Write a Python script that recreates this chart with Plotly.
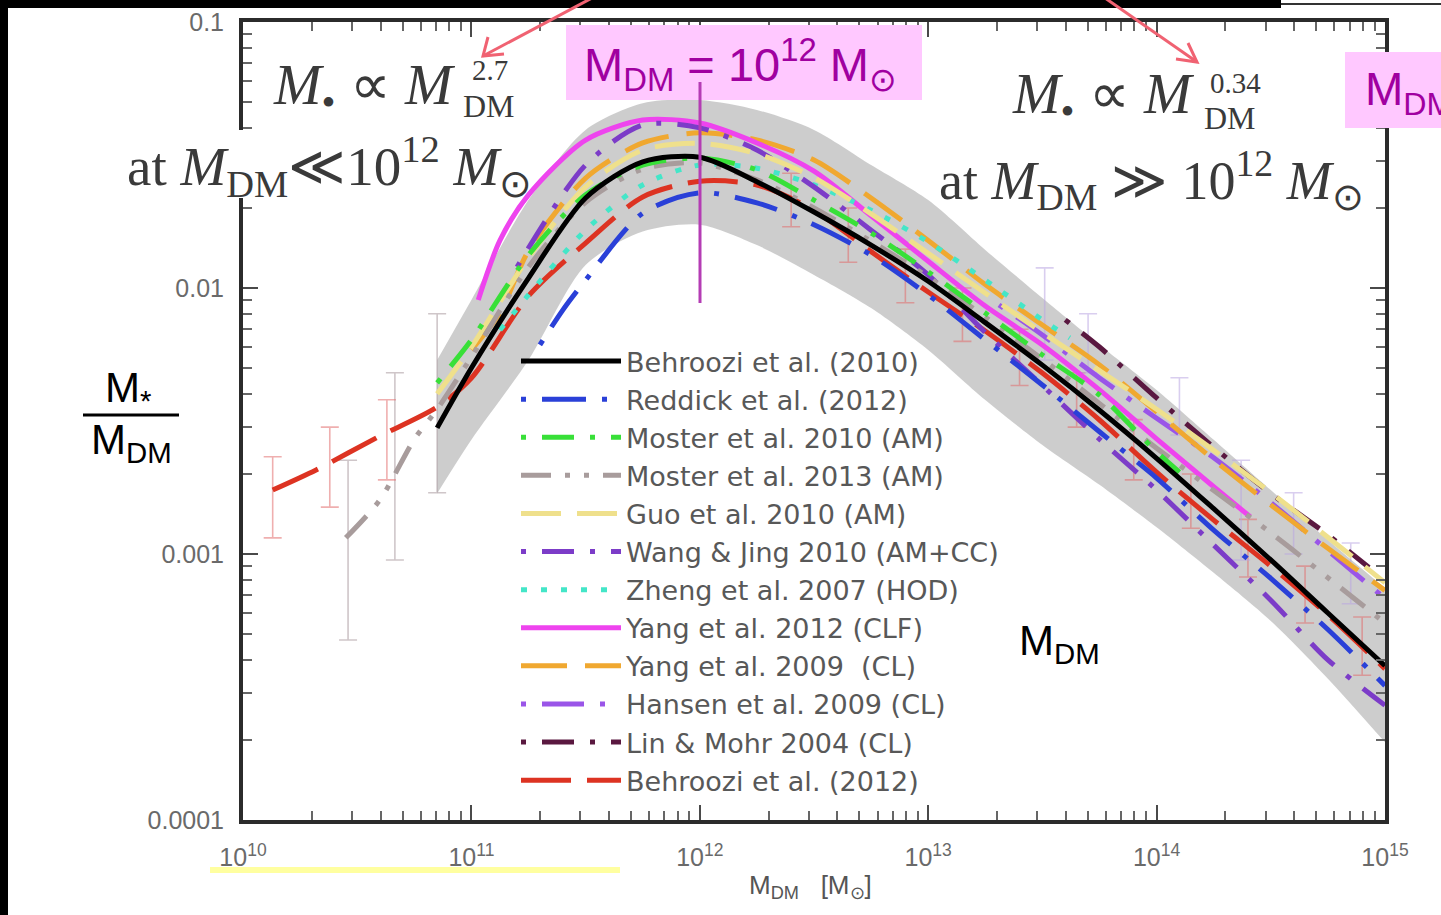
import plotly.graph_objects as go

# ---------------- data (log10 halo mass, stellar-to-halo mass ratio) ----------------
names = ["Behroozi et al. (2010)", "Reddick et al. (2012)", "Moster et al. 2010 (AM)",
         "Moster et al. 2013 (AM)", "Guo et al. 2010 (AM)", "Wang &amp; Jing 2010 (AM+CC)",
         "Zheng et al. 2007 (HOD)", "Yang et al. 2012 (CLF)", "Yang et al. 2009  (CL)",
         "Hansen et al. 2009 (CL)", "Lin &amp; Mohr 2004 (CL)", "Behroozi et al. (2012)"]

band_lgm = [10.85, 11.0, 11.25, 11.5, 11.75, 12.0, 12.25, 12.5, 12.75, 13.0, 13.25, 13.5,
            13.75, 14.0, 14.25, 14.5, 14.75, 15.0]
band_hi = [0.00536, 0.00902, 0.0214, 0.0393, 0.0495, 0.0509, 0.0467, 0.0393, 0.0290, 0.0214,
           0.0139, 0.00917, 0.00611, 0.00414, 0.00269, 0.00174, 0.00113, 0.000745]
band_lo = [0.00169, 0.00269, 0.00536, 0.0122, 0.0163, 0.0173, 0.0145, 0.0112, 0.00841, 0.00585,
           0.00379, 0.00257, 0.00182, 0.00126, 0.00085, 0.00056, 0.00034, 0.000196]

behroozi10_lgm = band_lgm
behroozi10_r = [0.00298, 0.00500, 0.0109, 0.0218, 0.0298, 0.0310, 0.0251, 0.0193, 0.0145, 0.0106,
                0.00741, 0.00513, 0.00347, 0.00229, 0.00148, 0.00095, 0.00060, 0.00038]

reddick_lgm = [11.3, 11.4, 11.5, 11.75, 12.0, 12.25, 12.5, 12.75, 13.0, 13.25, 13.5, 13.75,
               14.0, 14.25, 14.5, 14.75, 15.0]
reddick_r = [0.00611, 0.00826, 0.0107, 0.0191, 0.0228, 0.0209, 0.0173, 0.0133, 0.00942, 0.00638,
             0.00432, 0.00288, 0.00193, 0.00123, 0.00081, 0.00052, 0.00032]

moster10_lgm = [10.85, 11.0, 11.25, 11.5, 11.75, 12.0, 12.25, 12.5, 12.75, 13.0, 13.25, 13.5,
                13.75, 14.0, 14.1]
moster10_r = [0.00440, 0.00638, 0.0133, 0.0224, 0.0290, 0.0308, 0.0278, 0.0214, 0.0161, 0.0115,
              0.00805, 0.00560, 0.00396, 0.00242, 0.00203]

moster13_lgm = [10.45, 10.6, 10.75, 10.85, 11.0, 11.25, 11.5, 11.75, 12.0, 12.25, 12.5, 13.0,
                13.5, 14.0, 14.5, 15.0]
moster13_r = [0.00115, 0.0016, 0.0027, 0.0035, 0.0055, 0.0120, 0.0210, 0.0280, 0.0295, 0.0255,
              0.0200, 0.0110, 0.0054, 0.0025, 0.0012, 0.00055]

guo_lgm = [10.85, 11.0, 11.25, 11.5, 11.75, 12.0, 12.25, 12.5, 12.75, 13.0, 13.5, 14.0, 14.5, 15.0]
guo_r = [0.0040, 0.0060, 0.0130, 0.0240, 0.0330, 0.0350, 0.0320, 0.0260, 0.0190, 0.0135,
         0.0068, 0.0035, 0.0017, 0.00078]

wang_lgm = [11.2, 11.5, 11.75, 12.0, 12.25, 12.5, 12.75, 13.0, 13.25, 13.5, 13.75, 14.0,
            14.25, 14.5, 14.75, 15.0]
wang_r = [0.0120, 0.0290, 0.0410, 0.0400, 0.0330, 0.0240, 0.0165, 0.0112, 0.0068, 0.0043,
          0.0027, 0.00174, 0.00108, 0.00067, 0.00040, 0.00027]

zheng_lgm = [11.125, 11.25, 11.5, 11.75, 12.0, 12.25, 12.5, 12.75, 13.0, 13.25, 13.5, 13.62]
zheng_r = [0.00695, 0.00942, 0.0165, 0.0244, 0.0290, 0.0282, 0.0244, 0.0196, 0.0149, 0.0107,
           0.00759, 0.00649]

yang12_lgm = [11.03, 11.125, 11.25, 11.5, 11.75, 12.0, 12.25, 12.5, 12.75, 13.0, 13.25, 13.5,
              13.75, 14.0, 14.25, 14.41]
yang12_r = [0.00902, 0.0151, 0.0224, 0.0360, 0.0428, 0.0417, 0.0351, 0.0275, 0.0187, 0.0126,
            0.00855, 0.00611, 0.00414, 0.00271, 0.00179, 0.00138]

yang09_lgm = [11.0, 11.125, 11.25, 11.5, 11.75, 12.0, 12.25, 12.5, 12.75, 13.0, 13.25, 13.5,
              13.75, 14.0, 14.25, 14.5, 14.75, 15.0]
yang09_r = [0.00585, 0.00805, 0.0138, 0.0259, 0.0351, 0.0383, 0.0360, 0.0303, 0.0218, 0.0151,
            0.0103, 0.00726, 0.00514, 0.00342, 0.00226, 0.00153, 0.00105, 0.00073]

hansen_lgm = [13.31, 13.5, 13.75, 14.0, 14.25, 14.5, 14.75, 15.0]
hansen_r = [0.00863, 0.00666, 0.00459, 0.00324, 0.00230, 0.00156, 0.00103, 0.00068]

linmohr_lgm = [13.6, 13.75, 14.0, 14.25, 14.5, 14.75, 14.93]
linmohr_r = [0.00759, 0.00600, 0.00386, 0.00252, 0.00169, 0.00118, 0.00089]

behroozi12_lgm = [10.13, 10.32, 10.59, 10.85, 11.0, 11.25, 11.5, 11.75, 12.0, 12.25, 12.5, 12.75,
                  13.0, 13.25, 13.5, 13.75, 14.0, 14.25, 14.5, 14.75, 15.0]
behroozi12_r = [0.00174, 0.00207, 0.00275, 0.00357, 0.00459, 0.00933, 0.01476, 0.0220, 0.0252,
                0.0244, 0.0196, 0.0137, 0.00966, 0.00689, 0.00479, 0.00319, 0.00203, 0.00134,
                0.00090, 0.00059, 0.00037]

# error bars (data points)
b12pts_lgm = [10.13, 10.38, 10.63, 12.4, 12.65, 12.9, 13.15, 13.4, 13.65, 13.9, 14.15, 14.4, 14.65, 14.9]
b12pts_c = [0.00174, 0.00212, 0.0028, 0.0215, 0.0160, 0.0110, 0.0080, 0.0055, 0.0038, 0.0025,
            0.0016, 0.00105, 0.00070, 0.00045]
b12pts_hi = [0.00232, 0.0030, 0.0038, 0.0270, 0.0200, 0.0140, 0.0100, 0.0070, 0.0048, 0.0032,
             0.0020, 0.00135, 0.00090, 0.00058]
b12pts_lo = [0.00115, 0.0015, 0.0019, 0.0170, 0.0125, 0.0088, 0.0063, 0.0043, 0.0030, 0.0019,
             0.00125, 0.00082, 0.00055, 0.00035]

m13pts_lgm = [10.46, 10.665, 10.85]
m13pts_c = [0.00118, 0.0021, 0.0035]
m13pts_hi = [0.00225, 0.0048, 0.0080]
m13pts_lo = [0.000475, 0.00095, 0.0017]

clpts_lgm = [13.51, 13.7, 14.1, 14.37, 14.6, 14.85]
clpts_c = [0.0079, 0.0062, 0.0036, 0.0018, 0.0013, 0.00085]
clpts_hi = [0.0119, 0.0080, 0.0046, 0.00225, 0.0017, 0.0011]
clpts_lo = [0.00536, 0.0048, 0.0028, 0.00095, 0.0010, 0.00065]

x_tickvals = [1e10, 1e11, 1e12, 1e13, 1e14, 1e15]
x_ticktext = ["10<sup>10</sup>", "10<sup>11</sup>", "10<sup>12</sup>", "10<sup>13</sup>",
              "10<sup>14</sup>", "10<sup>15</sup>"]
y_tickvals = [1e-4, 1e-3, 1e-2, 1e-1]
y_ticktext = ["0.0001", "0.001", "0.01", "0.1"]
x_minor = [m * 10.0 ** e for e in range(10, 15) for m in range(2, 10)]
y_minor = [m * 10.0 ** e for e in range(-4, -1) for m in range(2, 10)]

# ---------------- styles ----------------
series = [
    (behroozi10_lgm, behroozi10_r, "#000000", "solid"),
    (reddick_lgm, reddick_r, "#2a40d8", "5px,16px,44px,16px"),
    (moster10_lgm, moster10_r, "#38e038", "5px,16px,32px,16px"),
    (moster13_lgm, moster13_r, "#a89c9c", "30px,14px,5px,14px,5px,14px"),
    (guo_lgm, guo_r, "#efe08c", "40px,16px"),
    (wang_lgm, wang_r, "#7c3cc8", "5px,16px,32px,16px"),
    (zheng_lgm, zheng_r, "#44e6c8", "6px,14px"),
    (yang12_lgm, yang12_r, "#ee44ee", "solid"),
    (yang09_lgm, yang09_r, "#f0a830", "46px,18px"),
    (hansen_lgm, hansen_r, "#9a55e8", "5px,16px,42px,16px"),
    (linmohr_lgm, linmohr_r, "#5a1840", "5px,16px,32px,16px"),
    (behroozi12_lgm, behroozi12_r, "#dd3322", "50px,16px"),
]

W, H = 1441, 915
def fx(p):
    return p / W
def fy(p):
    return 1 - p / H

fig = go.Figure()

# uncertainty band
fig.add_trace(go.Scatter(x=[10 ** v for v in band_lgm], y=band_lo, mode="lines",
                         line=dict(width=0, color="rgba(0,0,0,0)", shape="spline", smoothing=0.8),
                         showlegend=False, hoverinfo="skip"))
fig.add_trace(go.Scatter(x=[10 ** v for v in band_lgm], y=band_hi, mode="lines",
                         line=dict(width=0, color="rgba(0,0,0,0)", shape="spline", smoothing=0.8),
                         fill="tonexty", fillcolor="rgba(196,196,196,0.85)", showlegend=False,
                         hoverinfo="skip"))

def errtrace(lgm, c, hi, lo, color):
    return go.Scatter(x=[10 ** v for v in lgm], y=c, mode="markers",
                      marker=dict(size=1, color="rgba(0,0,0,0)"), showlegend=False,
                      hoverinfo="skip",
                      error_y=dict(type="data", symmetric=False,
                                   array=[h - m for h, m in zip(hi, c)],
                                   arrayminus=[m - l for m, l in zip(c, lo)],
                                   color=color, thickness=1.6, width=9))

fig.add_trace(errtrace(m13pts_lgm, m13pts_c, m13pts_hi, m13pts_lo, "rgba(175,160,165,0.6)"))
fig.add_trace(errtrace(b12pts_lgm, b12pts_c, b12pts_hi, b12pts_lo, "rgba(225,110,110,0.55)"))
fig.add_trace(errtrace(clpts_lgm, clpts_c, clpts_hi, clpts_lo, "rgba(185,165,225,0.55)"))

for (lgm, r, col, dash), nm in reversed(list(zip(series, names))):
    fig.add_trace(go.Scatter(x=[10 ** v for v in lgm], y=r, mode="lines", name=nm,
                             line=dict(color=col, width=5, dash=dash, shape="spline",
                                       smoothing=0.8)))

axis_common = dict(type="log", showline=True, linewidth=4, linecolor="#2b2b2b", mirror="ticks",
                   ticks="inside", ticklen=15, tickwidth=2, tickcolor="#4a4a4a", showgrid=False,
                   zeroline=False,
                   tickfont=dict(family="Liberation Sans", size=25, color="#6a6a6a"))

fig.update_layout(
    width=W, height=H, margin=dict(l=0, r=0, t=0, b=0, pad=0, autoexpand=False),
    paper_bgcolor="white", plot_bgcolor="white",
    xaxis=dict(axis_common, range=[10, 15], domain=[fx(243), fx(1385)],
               tickvals=x_tickvals, ticktext=x_ticktext, ticklabelstandoff=12, automargin=False,
               minor=dict(tickmode="array", tickvals=x_minor, ticks="inside", ticklen=9,
                          tickwidth=1.8, tickcolor="#666666", showgrid=False)),
    yaxis=dict(axis_common, range=[-4, -1], domain=[fy(820), fy(22)],
               tickvals=y_tickvals, ticktext=y_ticktext, ticklabelstandoff=10, automargin=False,
               minor=dict(tickmode="array", tickvals=y_minor, ticks="inside", ticklen=9,
                          tickwidth=1.8, tickcolor="#666666", showgrid=False)),
    legend=dict(x=fx(516), y=fy(337), xanchor="left", yanchor="top",
                bgcolor="rgba(0,0,0,0)", traceorder="reversed", itemwidth=100,
                font=dict(family="DejaVu Sans", size=27, color="#585858"),
                tracegroupgap=0),
    showlegend=True,
)

# ---------------- slide decorations ----------------
shapes = [
    dict(type="rect", xref="paper", yref="paper", x0=fx(0), x1=fx(1281), y0=fy(8), y1=fy(0),
         fillcolor="black", line=dict(width=0), layer="above"),
    dict(type="rect", xref="paper", yref="paper", x0=fx(0), x1=fx(8), y0=fy(915), y1=fy(0),
         fillcolor="black", line=dict(width=0), layer="above"),
    dict(type="line", xref="paper", yref="paper", x0=fx(1281), x1=fx(1441), y0=fy(4), y1=fy(4),
         line=dict(color="#333333", width=2), layer="above"),
    # white backing of the "at M_DM << ..." label where it crosses the axis
    dict(type="rect", xref="paper", yref="paper", x0=fx(232), x1=fx(262), y0=fy(198), y1=fy(130),
         fillcolor="white", line=dict(width=0), layer="above"),
    dict(type="rect", xref="paper", yref="paper", x0=fx(566), x1=fx(922), y0=fy(100), y1=fy(25),
         fillcolor="#ffc8ff", line=dict(width=0), layer="above"),
    dict(type="rect", xref="paper", yref="paper", x0=fx(1345), x1=fx(1441), y0=fy(128), y1=fy(52),
         fillcolor="#ffc8ff", line=dict(width=0), layer="above"),
    dict(type="line", xref="paper", yref="paper", x0=fx(700), x1=fx(700), y0=fy(82), y1=fy(303),
         line=dict(color="#b43cb4", width=3), layer="above"),
    dict(type="line", xref="paper", yref="paper", x0=fx(83), x1=fx(179), y0=fy(415), y1=fy(415),
         line=dict(color="black", width=3), layer="above"),
    dict(type="rect", xref="paper", yref="paper", x0=fx(210), x1=fx(620), y0=fy(873), y1=fy(867),
         fillcolor="#ffffa0", line=dict(width=0), layer="above"),
    # arrows
    dict(type="path", xref="paper", yref="paper",
         path=f"M {fx(592)} {fy(-2)} L {fx(483)} {fy(56)}",
         line=dict(color="#f06272", width=3), layer="above"),
    dict(type="path", xref="paper", yref="paper",
         path=f"M {fx(488)} {fy(37)} L {fx(483)} {fy(56)} L {fx(504)} {fy(54)}",
         line=dict(color="#f06272", width=3), layer="above"),
    dict(type="path", xref="paper", yref="paper",
         path=f"M {fx(1105)} {fy(-2)} L {fx(1197)} {fy(62)}",
         line=dict(color="#f06272", width=3), layer="above"),
    dict(type="path", xref="paper", yref="paper",
         path=f"M {fx(1188)} {fy(43)} L {fx(1197)} {fy(62)} L {fx(1176)} {fy(59)}",
         line=dict(color="#f06272", width=3), layer="above"),
]
fig.update_layout(shapes=shapes)

serif = "Liberation Serif"
txtc = "#3a3a3a"
def ann(text, x, y, size, color, family, xanchor="left"):
    fig.add_annotation(text=text, xref="paper", yref="paper", x=fx(x), y=fy(y),
                       xanchor=xanchor, yanchor="middle", showarrow=False, borderpad=0,
                       font=dict(size=size, color=color, family=family))

ann("<i>M</i><sub>\u2022</sub> \u221d <i>M</i>", 272, 89, 57, txtc, serif)
ann("2.7", 490, 70, 29, txtc, serif, "center")
ann("DM", 489, 106, 32, txtc, serif, "center")
ann("at <i>M</i><sub>DM</sub>\u226a10<sup>12</sup> <i>M</i><sub>\u2299</sub>", 126, 166, 55, txtc,
    serif)

ann("<i>M</i><sub>\u2022</sub> \u221d <i>M</i>", 1011, 98, 57, txtc, serif)
ann("0.34", 1235, 83, 29, txtc, serif, "center")
ann("DM", 1230, 118, 32, txtc, serif, "center")
ann("at <i>M</i><sub>DM</sub> \u226b 10<sup>12</sup> <i>M</i><sub>\u2299</sub>", 938, 180, 54, txtc, serif)

sans = "Liberation Sans"
ann("M<sub>DM</sub> = 10<sup>12</sup> M<sub>\u2299</sub>", 583, 65, 47, "#a000a0", sans)
ann("M<sub>DM</sub>", 1364, 93, 46, "#a000a0", sans)
ann("M<sub>*</sub>", 104, 390, 42, "black", sans)
ann("M<sub>DM</sub>", 90, 442, 42, "black", sans)
ann("M<sub>DM</sub>", 1018, 643, 42, "black", sans)
ann("M<sub>DM</sub>   [M<sub>\u2299</sub>]", 810, 886, 26, "#555555", sans, "center")

fig.write_html("out.html")
